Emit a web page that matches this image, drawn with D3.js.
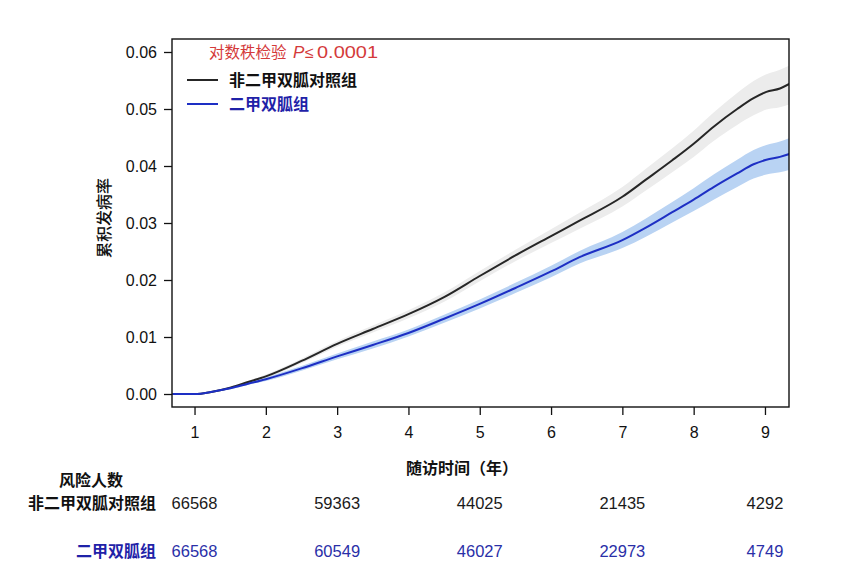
<!DOCTYPE html>
<html>
<head>
<meta charset="utf-8">
<script src="https://cdnjs.cloudflare.com/ajax/libs/d3/7.8.5/d3.min.js"></script>
<style>
  body { margin: 0; background: #fff; }
  svg { display: block; }
  .num { font-family: "Liberation Sans", Arial, sans-serif; font-size: 16px; fill: #111; }
  .cjk { font-family: "Noto Sans CJK SC", sans-serif; }
  .axis path, .axis line { stroke: #111; stroke-width: 1.3; }
</style>
</head>
<body>
<svg width="844" height="583"></svg>
<script>
// follow-up years sampled along the curves
var years = [0.69, 1.0, 1.25, 1.5, 1.75, 2.0, 2.5, 3.0, 3.5, 4.0, 4.5, 5.0, 5.5, 6.0, 6.4, 7.0, 7.33, 7.7, 8.0, 8.28, 8.61, 8.84, 9.02, 9.21, 9.34];

// 非二甲双胍对照组 cumulative incidence + CI
var ctrl    = [0, 0, 0.0004, 0.0011, 0.0021, 0.0031, 0.0058, 0.0088, 0.0114, 0.0140, 0.0170, 0.0207, 0.0243, 0.0277, 0.0304, 0.0346, 0.0376, 0.0410, 0.0439, 0.0469, 0.0500, 0.0519, 0.0530, 0.0536, 0.0544];
var ctrlLo  = [0, 0, 0.0003, 0.0009, 0.0019, 0.0028, 0.0054, 0.0083, 0.0108, 0.0133, 0.0162, 0.0198, 0.0233, 0.0265, 0.0290, 0.0329, 0.0357, 0.0389, 0.0416, 0.0444, 0.0472, 0.0489, 0.0499, 0.0503, 0.0508];
var ctrlHi  = [0, 0, 0.0005, 0.0013, 0.0023, 0.0034, 0.0062, 0.0093, 0.0120, 0.0147, 0.0178, 0.0216, 0.0253, 0.0289, 0.0318, 0.0363, 0.0395, 0.0431, 0.0462, 0.0494, 0.0528, 0.0549, 0.0561, 0.0569, 0.0576];

// 二甲双胍组
var metf    = [0, 0, 0.0004, 0.0010, 0.0018, 0.0026, 0.0045, 0.0066, 0.0086, 0.0107, 0.0132, 0.0158, 0.0186, 0.0215, 0.0240, 0.0270, 0.0292, 0.0319, 0.0341, 0.0363, 0.0387, 0.0403, 0.0411, 0.0416, 0.0421];
var metfLo  = [0, 0, 0.0003, 0.0008, 0.0016, 0.0023, 0.0041, 0.0061, 0.0080, 0.0101, 0.0125, 0.0150, 0.0177, 0.0205, 0.0229, 0.0256, 0.0276, 0.0301, 0.0321, 0.0341, 0.0363, 0.0378, 0.0385, 0.0389, 0.0393];
var metfHi  = [0, 0, 0.0005, 0.0012, 0.0020, 0.0029, 0.0049, 0.0071, 0.0092, 0.0113, 0.0139, 0.0166, 0.0195, 0.0225, 0.0251, 0.0284, 0.0308, 0.0337, 0.0361, 0.0385, 0.0411, 0.0428, 0.0437, 0.0443, 0.0449];

var xTicks = [1, 2, 3, 4, 5, 6, 7, 8, 9];
var yTicks = [0, 0.01, 0.02, 0.03, 0.04, 0.05, 0.06];

// number at risk
var riskYears = [1, 3, 5, 7, 9];
var riskCtrl = [66568, 59363, 44025, 21435, 4292];
var riskMetf = [66568, 60549, 46027, 22973, 4749];

var svg = d3.select("svg");
var plotL = 172, plotR = 789, plotT = 39, plotB = 407;

var x = d3.scaleLinear().domain([0.684, 9.337]).range([plotL, plotR]);
var y = d3.scaleLinear().domain([-0.00228, 0.06228]).range([plotB, plotT]);

function rows(mid, lo, hi) {
  return years.map(function(t, i) { return { t: t, v: mid[i], lo: lo[i], hi: hi[i] }; });
}

var area = d3.area()
  .x(function(d) { return x(d.t); })
  .y0(function(d) { return y(d.lo); })
  .y1(function(d) { return y(d.hi); })
  .curve(d3.curveMonotoneX);

var line = d3.line()
  .x(function(d) { return x(d.t); })
  .y(function(d) { return y(d.v); })
  .curve(d3.curveMonotoneX);

var groups = [
  { data: rows(ctrl, ctrlLo, ctrlHi), band: "#ececec", stroke: "#262626" },
  { data: rows(metf, metfLo, metfHi), band: "#b9d3f3", stroke: "#1d2fc4" }
];

svg.append("clipPath").attr("id", "clip")
  .append("rect").attr("x", plotL).attr("y", plotT).attr("width", plotR - plotL).attr("height", plotB - plotT);

var plot = svg.append("g").attr("clip-path", "url(#clip)");

groups.forEach(function(g) {
  plot.append("path").datum(g.data).attr("d", area).attr("fill", g.band);
});
groups.forEach(function(g) {
  plot.append("path").datum(g.data).attr("d", line)
    .attr("fill", "none").attr("stroke", g.stroke).attr("stroke-width", 2);
});

// frame
svg.append("rect")
  .attr("x", plotL).attr("y", plotT).attr("width", plotR - plotL).attr("height", plotB - plotT)
  .attr("fill", "none").attr("stroke", "#111").attr("stroke-width", 1.4);

// axes
var yAxis = svg.append("g").attr("class", "axis")
  .attr("transform", "translate(" + plotL + ",0)")
  .call(d3.axisLeft(y).tickValues(yTicks).tickFormat(d3.format(".2f")).tickSize(8).tickPadding(7));
yAxis.select(".domain").remove();
yAxis.selectAll("text").attr("class", "num").attr("font-size", null).attr("font-family", null);

var xAxis = svg.append("g").attr("class", "axis")
  .attr("transform", "translate(0," + plotB + ")")
  .call(d3.axisBottom(x).tickValues(xTicks).tickFormat(d3.format("d")).tickSize(8).tickPadding(12));
xAxis.select(".domain").remove();
xAxis.selectAll("text").attr("class", "num").attr("font-size", null).attr("font-family", null);

// axis titles
svg.append("text").attr("class", "cjk")
  .attr("x", 462).attr("y", 474).attr("text-anchor", "middle")
  .attr("font-size", 16).attr("font-weight", "bold").attr("fill", "#111")
  .text("随访时间（年）");

svg.append("text").attr("class", "cjk")
  .attr("transform", "translate(110,218) rotate(-90)").attr("text-anchor", "middle")
  .attr("font-size", 16).attr("font-weight", 500).attr("fill", "#111")
  .text("累积发病率");

// legend
var lt = svg.append("text").attr("y", 58).attr("font-size", 16).attr("fill", "#d43a3a");
lt.append("tspan").attr("class", "cjk").attr("x", 209).attr("font-size", 15.5).text("对数秩检验");
lt.append("tspan").attr("x", 293).attr("font-family", "Liberation Sans, Arial, sans-serif")
  .attr("font-style", "italic").attr("font-size", 17).text("P");
lt.append("tspan").attr("x", 305).attr("font-family", "Liberation Sans, Arial, sans-serif").text("≤");
lt.append("tspan").attr("x", 317).attr("font-family", "Liberation Sans, Arial, sans-serif")
  .attr("font-size", 17).attr("textLength", 61).attr("lengthAdjust", "spacingAndGlyphs").text("0.0001");

var legendItems = [
  { label: "非二甲双胍对照组", stroke: "#262626", color: "#111", y: 80 },
  { label: "二甲双胍组", stroke: "#1d2fc4", color: "#1f22a8", y: 104 }
];
legendItems.forEach(function(d) {
  svg.append("line").attr("x1", 187).attr("x2", 218).attr("y1", d.y).attr("y2", d.y)
    .attr("stroke", d.stroke).attr("stroke-width", 2);
  svg.append("text").attr("class", "cjk").attr("x", 229).attr("y", d.y + 6)
    .attr("font-size", 16).attr("font-weight", "bold").attr("fill", d.color).text(d.label);
});

// risk table
svg.append("text").attr("class", "cjk").attr("x", 91).attr("y", 486).attr("text-anchor", "middle")
  .attr("font-size", 16).attr("font-weight", "bold").attr("fill", "#111").text("风险人数");

var riskRows = [
  { label: "非二甲双胍对照组", values: riskCtrl, color: "#111", numColor: "#1a1a1a", y: 509 },
  { label: "二甲双胍组", values: riskMetf, color: "#1f22a8", numColor: "#2a2fa8", y: 557 }
];
riskRows.forEach(function(r) {
  svg.append("text").attr("class", "cjk").attr("x", 156).attr("y", r.y).attr("text-anchor", "end")
    .attr("font-size", 16).attr("font-weight", "bold").attr("fill", r.color).text(r.label);
  svg.selectAll(null).data(r.values).enter().append("text")
    .attr("class", "num").attr("text-anchor", "middle")
    .attr("x", function(d, i) { return x(riskYears[i]); })
    .attr("y", r.y)
    .style("font-size", "16.5px")
    .style("fill", r.numColor)
    .text(function(d) { return d; });
});
</script>
</body>
</html>
